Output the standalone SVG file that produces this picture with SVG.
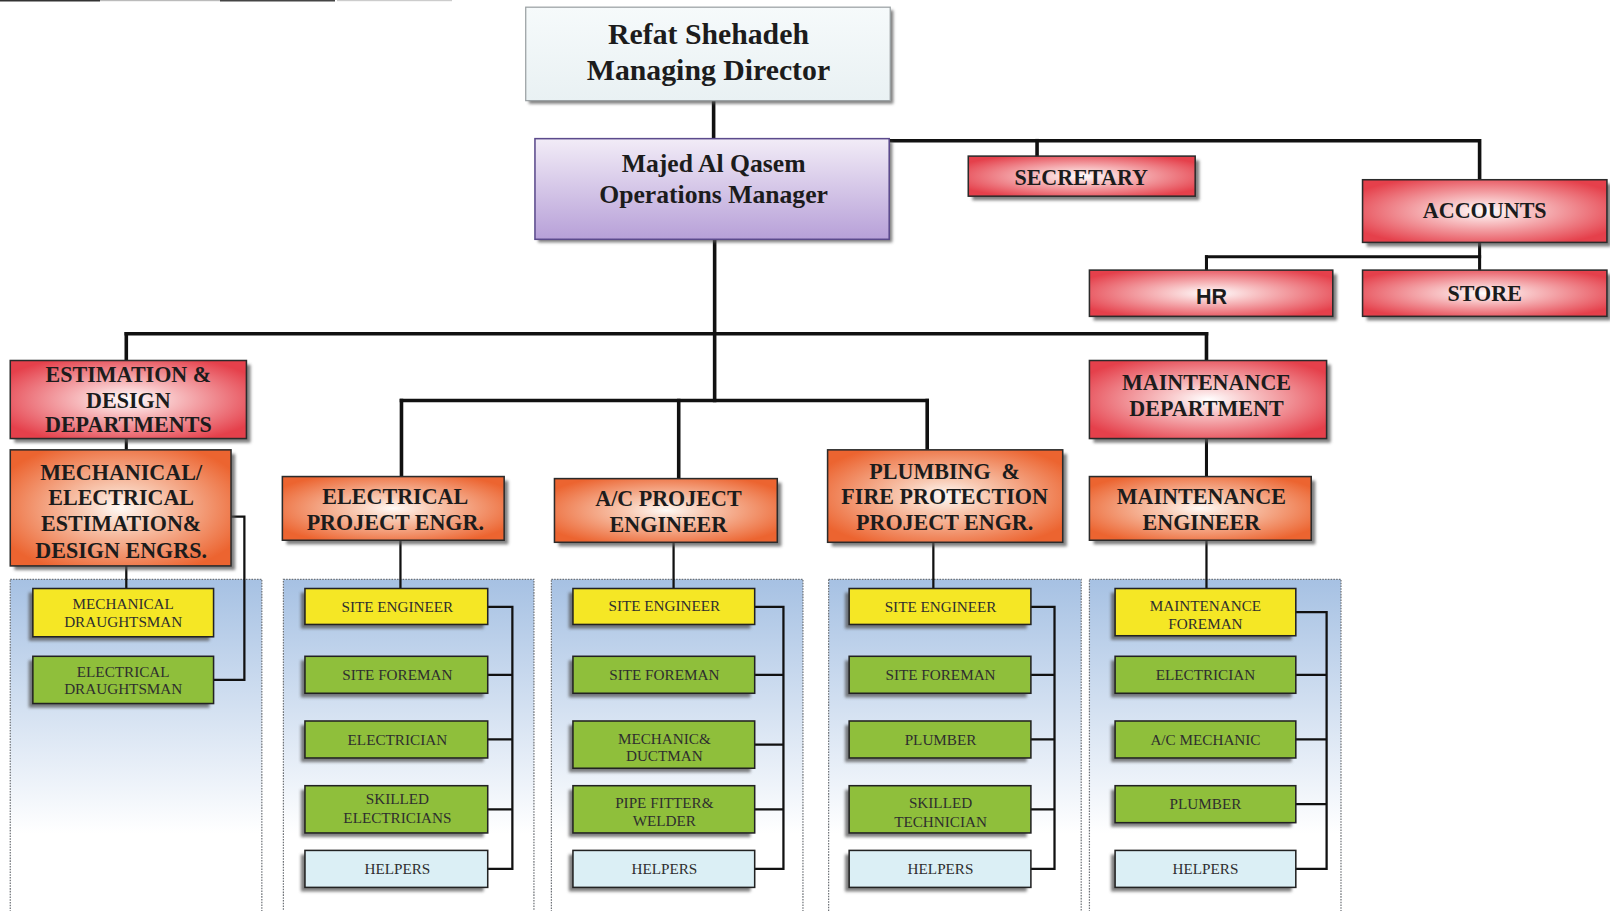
<svg xmlns="http://www.w3.org/2000/svg" width="1610" height="911" viewBox="0 0 1610 911">
<defs>
<radialGradient id="gRed" cx="0.5" cy="0.5" r="0.6">
<stop offset="0" stop-color="#ffffff"/>
<stop offset="0.3" stop-color="#f8c4c6"/>
<stop offset="1" stop-color="#e5404b"/>
</radialGradient>
<radialGradient id="gOrg" cx="0.5" cy="0.5" r="0.6">
<stop offset="0" stop-color="#fffaf6"/>
<stop offset="0.3" stop-color="#f8c9b2"/>
<stop offset="1" stop-color="#ec6430"/>
</radialGradient>
<linearGradient id="gOM" x1="0" y1="0" x2="0" y2="1">
<stop offset="0" stop-color="#f2ecf7"/>
<stop offset="1" stop-color="#b7a0d8"/>
</linearGradient>
<linearGradient id="gMD" x1="0" y1="0" x2="0" y2="1">
<stop offset="0" stop-color="#f6fafb"/>
<stop offset="1" stop-color="#e9f1f3"/>
</linearGradient>
<linearGradient id="gPanel" x1="0" y1="0" x2="0" y2="1">
<stop offset="0" stop-color="#a6c1e3"/>
<stop offset="0.75" stop-color="#ffffff"/>
<stop offset="1" stop-color="#ffffff"/>
</linearGradient>
<filter id="blur" x="-10%" y="-10%" width="120%" height="130%"><feGaussianBlur stdDeviation="1.5"/></filter>
</defs>
<style>
.big{stroke:#2b2b2b;stroke-width:1.5}
.red{fill:url(#gRed)}
.org{fill:url(#gOrg)}
.sm{stroke:#222;stroke-width:1.5}
.yel{fill:#f5e725}
.grn{fill:#8fbf3b}
.hlp{fill:#dbeff5}
.sh{fill:#555;opacity:0.75;filter:url(#blur)}
.panel{fill:url(#gPanel);stroke:#6f7378;stroke-width:1.2;stroke-dasharray:1.5 1.2}
.tb{font-family:"Liberation Serif","Times New Roman",serif;font-weight:bold;fill:#1c1c1c;text-anchor:middle;font-size:21.5px}
.ts{font-family:"Liberation Serif","Times New Roman",serif;font-size:14.8px;fill:#2e2e2e;text-anchor:middle}
.c{fill:none;stroke:#111;stroke-linecap:square}
</style>
<rect width="1610" height="911" fill="#ffffff"/>
<g id="scan-edge">
<rect x="0" y="0" width="100" height="1.5" fill="#333"/>
<rect x="100" y="0" width="120" height="1.2" fill="#bbb"/>
<rect x="220" y="0" width="115" height="1.5" fill="#444"/>
<rect x="337" y="0" width="115" height="1.2" fill="#ccc"/>
</g>
<g transform="scale(1.02679 1.02706)">
<g id="panels">
<rect class="panel" x="10" y="564" width="245" height="330"/>
<rect class="panel" x="276" y="564" width="244" height="330"/>
<rect class="panel" x="537" y="564" width="245" height="330"/>
<rect class="panel" x="807" y="564" width="246" height="330"/>
<rect class="panel" x="1061" y="564" width="245" height="330"/>
</g>
<g id="connectors">
<g class="c" stroke-width="3.5">
<path d="M695 98V135"/>
<path d="M866 137H1441V175"/>
<path d="M1010 137V152"/>
<path d="M696 233V390"/>
<path d="M123 325H1175"/>
<path d="M123 325V351"/>
<path d="M1175 325V351"/>
<path d="M391 390H903"/>
<path d="M391 390V464"/>
<path d="M661 390V466"/>
<path d="M903 390V438"/>
</g>
<g class="c" stroke-width="3">
<path d="M1441 236V263"/>
<path d="M1175 250H1441"/>
<path d="M1175 250V263"/>
<path d="M123 427V438"/>
<path d="M1175 427V464"/>
</g>
<g class="c" stroke-width="2.2">
<path d="M123 551V573"/>
<path d="M390 526V573"/>
<path d="M656 528V573"/>
<path d="M909 528V573"/>
<path d="M1175 526V573"/>
<path d="M225 503H238V662H208"/>
<path d="M475 591H499V846H475M475 657H499M475 720H499M475 788H499"/>
<path d="M735 591H763V846H735M735 657H763M735 725H763M735 788H763"/>
<path d="M1004 591H1027V846H1004M1004 657H1027M1004 720H1027M1004 788H1027"/>
<path d="M1262 596H1292V846H1262M1262 657H1292M1262 720H1292M1262 783H1292"/>
</g>
</g>
<g id="md">
<rect class="sh" x="515" y="10" width="355" height="91"/>
<rect x="512" y="7" width="355" height="91" fill="url(#gMD)" stroke="#9aa0a3" stroke-width="1.2"/>
<text class="tb" x="690" y="43" style="font-size:29px">Refat Shehadeh</text>
<text class="tb" x="690" y="78" style="font-size:29px">Managing Director</text>
</g>
<g id="om">
<rect class="sh" x="524" y="138" width="345" height="98"/>
<rect x="521" y="135" width="345" height="98" fill="url(#gOM)" stroke="#5b4a8c" stroke-width="1.5"/>
<text class="tb" x="695" y="167" style="font-size:25px">Majed Al Qasem</text>
<text class="tb" x="695" y="198" style="font-size:25px">Operations Manager</text>
</g>
<g id="secretary">
<rect class="sh" x="947" y="156" width="221" height="39"/>
<rect class="big red" x="943" y="152" width="221" height="39"/>
<text class="tb" x="1053" y="180">SECRETARY</text>
</g>
<g id="accounts">
<rect class="sh" x="1331" y="179" width="238" height="61"/>
<rect class="big red" x="1327" y="175" width="238" height="61"/>
<text class="tb" x="1446" y="212">ACCOUNTS</text>
</g>
<g id="hr">
<rect class="sh" x="1065" y="267" width="237" height="45"/>
<rect class="big red" x="1061" y="263" width="237" height="45"/>
<text x="1180" y="296" font-size="21" font-family="Liberation Sans, Arial, sans-serif" font-weight="bold" fill="#1c1c1c" text-anchor="middle">HR</text>
</g>
<g id="store">
<rect class="sh" x="1331" y="267" width="238" height="45"/>
<rect class="big red" x="1327" y="263" width="238" height="45"/>
<text class="tb" x="1446" y="293">STORE</text>
</g>
<g id="estimation">
<rect class="sh" x="14" y="355" width="230" height="76"/>
<rect class="big red" x="10" y="351" width="230" height="76"/>
<text class="tb" x="125" y="372">ESTIMATION &amp;</text>
<text class="tb" x="125" y="397">DESIGN</text>
<text class="tb" x="125" y="421">DEPARTMENTS</text>
</g>
<g id="mech-elec-est">
<rect class="sh" x="14" y="442" width="215" height="113"/>
<rect class="big org" x="10" y="438" width="215" height="113"/>
<text class="tb" x="118" y="467">MECHANICAL/</text>
<text class="tb" x="118" y="492">ELECTRICAL</text>
<text class="tb" x="118" y="517">ESTIMATION&amp;</text>
<text class="tb" x="118" y="543">DESIGN ENGRS.</text>
</g>
<g id="elec-proj">
<rect class="sh" x="279" y="468" width="216" height="62"/>
<rect class="big org" x="275" y="464" width="216" height="62"/>
<text class="tb" x="385" y="491">ELECTRICAL</text>
<text class="tb" x="385" y="516">PROJECT ENGR.</text>
</g>
<g id="ac-proj">
<rect class="sh" x="544" y="470" width="217" height="62"/>
<rect class="big org" x="540" y="466" width="217" height="62"/>
<text class="tb" x="651" y="493">A/C PROJECT</text>
<text class="tb" x="651" y="518">ENGINEER</text>
</g>
<g id="plumb-proj">
<rect class="sh" x="810" y="442" width="229" height="90"/>
<rect class="big org" x="806" y="438" width="229" height="90"/>
<text class="tb" x="920" y="466" style="white-space:pre">PLUMBING  &amp;</text>
<text class="tb" x="920" y="491">FIRE PROTECTION</text>
<text class="tb" x="920" y="516">PROJECT ENGR.</text>
</g>
<g id="maint-dept">
<rect class="sh" x="1065" y="355" width="231" height="76"/>
<rect class="big red" x="1061" y="351" width="231" height="76"/>
<text class="tb" x="1175" y="380">MAINTENANCE</text>
<text class="tb" x="1175" y="405">DEPARTMENT</text>
</g>
<g id="maint-eng">
<rect class="sh" x="1065" y="468" width="216" height="62"/>
<rect class="big org" x="1061" y="464" width="216" height="62"/>
<text class="tb" x="1170" y="491">MAINTENANCE</text>
<text class="tb" x="1170" y="516">ENGINEER</text>
</g>
<g id="mech-draught">
<rect class="sh" x="28" y="577" width="176" height="47"/>
<rect class="sm yel" x="32" y="573" width="176" height="47"/>
<text class="ts" x="120" y="593">MECHANICAL</text>
<text class="ts" x="120" y="610">DRAUGHTSMAN</text>
</g>
<g id="elec-draught">
<rect class="sh" x="28" y="643" width="176" height="46"/>
<rect class="sm grn" x="32" y="639" width="176" height="46"/>
<text class="ts" x="120" y="659">ELECTRICAL</text>
<text class="ts" x="120" y="676">DRAUGHTSMAN</text>
</g>
<g id="c2-site-eng">
<rect class="sh" x="293" y="577" width="178" height="35"/>
<rect class="sm yel" x="297" y="573" width="178" height="35"/>
<text class="ts" x="387" y="596">SITE ENGINEER</text>
</g>
<g id="c2-site-foreman">
<rect class="sh" x="293" y="643" width="178" height="36"/>
<rect class="sm grn" x="297" y="639" width="178" height="36"/>
<text class="ts" x="387" y="662">SITE FOREMAN</text>
</g>
<g id="c2-electrician">
<rect class="sh" x="293" y="706" width="178" height="36"/>
<rect class="sm grn" x="297" y="702" width="178" height="36"/>
<text class="ts" x="387" y="725">ELECTRICIAN</text>
</g>
<g id="c2-skilled">
<rect class="sh" x="293" y="769" width="178" height="46"/>
<rect class="sm grn" x="297" y="765" width="178" height="46"/>
<text class="ts" x="387" y="783">SKILLED</text>
<text class="ts" x="387" y="801">ELECTRICIANS</text>
</g>
<g id="c2-helpers">
<rect class="sh" x="293" y="832" width="178" height="36"/>
<rect class="sm hlp" x="297" y="828" width="178" height="36"/>
<text class="ts" x="387" y="851">HELPERS</text>
</g>
<g id="c3-site-eng">
<rect class="sh" x="554" y="577" width="177" height="35"/>
<rect class="sm yel" x="558" y="573" width="177" height="35"/>
<text class="ts" x="647" y="595">SITE ENGINEER</text>
</g>
<g id="c3-site-foreman">
<rect class="sh" x="554" y="643" width="177" height="36"/>
<rect class="sm grn" x="558" y="639" width="177" height="36"/>
<text class="ts" x="647" y="662">SITE FOREMAN</text>
</g>
<g id="c3-mechanic">
<rect class="sh" x="554" y="706" width="177" height="46"/>
<rect class="sm grn" x="558" y="702" width="177" height="46"/>
<text class="ts" x="647" y="724">MECHANIC&amp;</text>
<text class="ts" x="647" y="741">DUCTMAN</text>
</g>
<g id="c3-pipe">
<rect class="sh" x="554" y="769" width="177" height="46"/>
<rect class="sm grn" x="558" y="765" width="177" height="46"/>
<text class="ts" x="647" y="787">PIPE FITTER&amp;</text>
<text class="ts" x="647" y="804">WELDER</text>
</g>
<g id="c3-helpers">
<rect class="sh" x="554" y="832" width="177" height="36"/>
<rect class="sm hlp" x="558" y="828" width="177" height="36"/>
<text class="ts" x="647" y="851">HELPERS</text>
</g>
<g id="c4-site-eng">
<rect class="sh" x="823" y="577" width="177" height="35"/>
<rect class="sm yel" x="827" y="573" width="177" height="35"/>
<text class="ts" x="916" y="596">SITE ENGINEER</text>
</g>
<g id="c4-site-foreman">
<rect class="sh" x="823" y="643" width="177" height="36"/>
<rect class="sm grn" x="827" y="639" width="177" height="36"/>
<text class="ts" x="916" y="662">SITE FOREMAN</text>
</g>
<g id="c4-plumber">
<rect class="sh" x="823" y="706" width="177" height="36"/>
<rect class="sm grn" x="827" y="702" width="177" height="36"/>
<text class="ts" x="916" y="725">PLUMBER</text>
</g>
<g id="c4-skilled">
<rect class="sh" x="823" y="769" width="177" height="46"/>
<rect class="sm grn" x="827" y="765" width="177" height="46"/>
<text class="ts" x="916" y="787">SKILLED</text>
<text class="ts" x="916" y="805">TECHNICIAN</text>
</g>
<g id="c4-helpers">
<rect class="sh" x="823" y="832" width="177" height="36"/>
<rect class="sm hlp" x="827" y="828" width="177" height="36"/>
<text class="ts" x="916" y="851">HELPERS</text>
</g>
<g id="c5-foreman">
<rect class="sh" x="1082" y="577" width="176" height="46"/>
<rect class="sm yel" x="1086" y="573" width="176" height="46"/>
<text class="ts" x="1174" y="595">MAINTENANCE</text>
<text class="ts" x="1174" y="612">FOREMAN</text>
</g>
<g id="c5-electrician">
<rect class="sh" x="1082" y="643" width="176" height="36"/>
<rect class="sm grn" x="1086" y="639" width="176" height="36"/>
<text class="ts" x="1174" y="662">ELECTRICIAN</text>
</g>
<g id="c5-ac-mechanic">
<rect class="sh" x="1082" y="706" width="176" height="36"/>
<rect class="sm grn" x="1086" y="702" width="176" height="36"/>
<text class="ts" x="1174" y="725">A/C MECHANIC</text>
</g>
<g id="c5-plumber">
<rect class="sh" x="1082" y="769" width="176" height="36"/>
<rect class="sm grn" x="1086" y="765" width="176" height="36"/>
<text class="ts" x="1174" y="788">PLUMBER</text>
</g>
<g id="c5-helpers">
<rect class="sh" x="1082" y="832" width="176" height="36"/>
<rect class="sm hlp" x="1086" y="828" width="176" height="36"/>
<text class="ts" x="1174" y="851">HELPERS</text>
</g>
</g>
</svg>
